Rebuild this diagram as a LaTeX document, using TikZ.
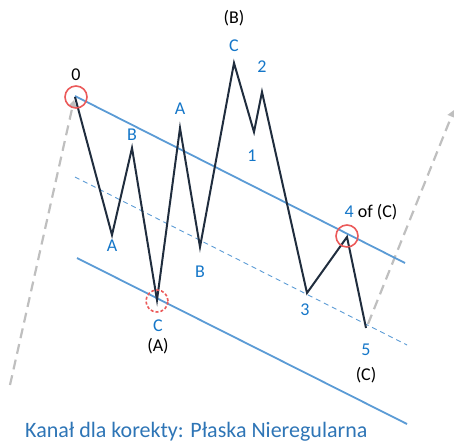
\documentclass[tikz,border=0pt]{standalone}
\usepackage{fontspec}
\setmainfont{Carlito}
\usetikzlibrary{arrows.meta}
\definecolor{wave}{RGB}{32,45,62}
\definecolor{chan}{RGB}{91,155,213}
\definecolor{lbl}{RGB}{20,118,200}
\definecolor{ttl}{RGB}{46,117,182}
\definecolor{ring}{RGB}{235,90,90}
\definecolor{guide}{RGB}{191,191,191}
\tikzset{
  waveline/.style={draw=wave,line width=2pt,line join=miter},
  chanline/.style={draw=chan,line width=1.8pt},
  midline/.style={draw=chan,line width=0.9pt,dash pattern=on 5pt off 4pt},
  guideline/.style={draw=guide,line width=2.2pt,dash pattern=on 10pt off 6pt,-{Triangle[width=8pt,length=7pt]}},
  ringmark/.style={draw=ring,line width=1.6pt,circle,minimum size=22pt,inner sep=0pt},
  bl/.style={text=lbl,font=\fontsize{18}{20}\selectfont,inner sep=0pt},
  bk/.style={text=black,font=\fontsize{18}{20}\selectfont,inner sep=0pt},
}
\begin{document}
\begin{tikzpicture}[x=1pt,y=-1pt]
\useasboundingbox (0,0) rectangle (454,444);
% wave points
\coordinate (p0) at (75,97);
\coordinate (pa) at (112,235);
\coordinate (pb) at (132,148);
\coordinate (pA) at (157,300);
\coordinate (pa2) at (180,128);
\coordinate (pb2) at (200,247);
\coordinate (pB) at (234,63);
\coordinate (p1) at (254,132);
\coordinate (p2) at (262,92);
\coordinate (p3) at (307,293);
\coordinate (p4) at (347,237);
\coordinate (p5) at (366,328);
% channel ends
\coordinate (u1) at (75,96);
\coordinate (u2) at (405,263);
\coordinate (l1) at (77,258);
\coordinate (l2) at (407,424);
\coordinate (m1) at (75,177);
\coordinate (m2) at (407,345);
\coordinate (g1) at (10,385);
\coordinate (g2) at (74,100);
\coordinate (g3) at (368,324);
\coordinate (g4) at (454,110);
% guide arrows
\draw[guideline] (g1) -- (g2);
\draw[guideline] (g3) -- (g4);
% channel
\draw[chanline] (u1) -- (u2);
\draw[chanline] (l1) -- (l2);
\draw[midline] (m1) -- (m2);
% wave
\draw[waveline] (p0) -- (pa) -- (pb) -- (pA) -- (pa2) -- (pb2) -- (pB) -- (p1) -- (p2) -- (p3) -- (p4) -- (p5);
% rings
\node[ringmark] (r0) at (76,97) {};
\node[ringmark,dashed,dash pattern=on 3pt off 2pt] (rA) at (157,301) {};
\node[ringmark] (r4) at (347,236) {};
% labels
\node[bk] (t0) at (76,75) {0};
\node[bk] (tB) at (234,18) {(B)};
\node[bl] (tc1) at (234,46) {C};
\node[bl] (t2) at (262,67) {2};
\node[bl] (t1) at (252,156) {1};
\node[bl] (tb1) at (132,135) {B};
\node[bl] (ta2) at (180,109) {A};
\node[bl] (ta1) at (112,246) {A};
\node[bl] (tb2) at (200,272) {B};
\node[bl] (tc2) at (158,326) {C};
\node[bk] (tA) at (158,346) {(A)};
\node[bl] (t3) at (305,310) {3};
\node[bk] (t4) at (371,212) {\textcolor{lbl}{4} of (C)};
\node[bl] (t5) at (366,350) {5};
\node[bk] (tC) at (366,375) {(C)};
\node[text=ttl,font=\fontsize{22}{24}\selectfont,inner sep=0pt,anchor=base west] (title) at (25,437) {Kanał dla korekty: Płaska Nieregularna};
\end{tikzpicture}
\end{document}
